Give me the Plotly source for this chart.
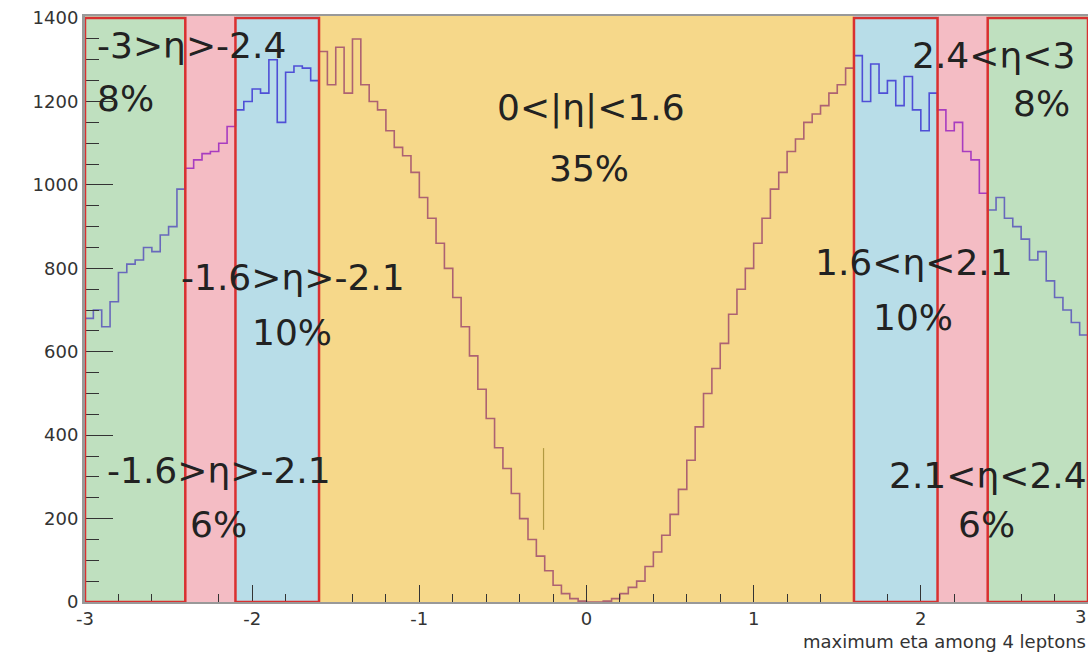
import numpy as np
import plotly.graph_objects as go

# ---- data: histogram counts per region (bin width 0.05) ----
bin_width = 0.05
region_edges = [-3.0, -2.4, -2.1, -1.6, 1.6, 2.1, 2.4, 3.0]

green_left = [680, 700, 660, 720, 790, 810, 820, 850, 840, 880, 900, 990]
pink_left = [1040, 1060, 1075, 1080, 1100, 1140]
blue_left = [1180, 1200, 1230, 1220, 1300, 1150, 1270, 1285, 1280, 1250]
orange_mid = [1320, 1240, 1330, 1220, 1350, 1240, 1200, 1180, 1130, 1090,
              1070, 1030, 970, 920, 860, 800, 730, 660, 590, 510,
              440, 370, 320, 260, 200, 150, 110, 75, 40, 20,
              8, 2, 0, 0, 2, 8, 20, 35, 50, 85,
              120, 160, 210, 270, 340, 420, 500, 560, 620, 690,
              750, 800, 860, 920, 990, 1030, 1080, 1110, 1150, 1170,
              1190, 1220, 1240, 1280]
blue_right = [1310, 1200, 1290, 1220, 1250, 1190, 1260, 1180, 1130, 1220]
pink_right = [1180, 1130, 1150, 1080, 1060, 980]
green_right = [940, 970, 920, 900, 870, 820, 840, 770, 730, 700, 670, 640]

region_counts = [green_left, pink_left, blue_left, orange_mid,
                 blue_right, pink_right, green_right]
region_fill = ["#bfe0bf", "#f4bcc4", "#b8dde8", "#f6d88a",
               "#b8dde8", "#f4bcc4", "#bfe0bf"]
region_line = ["#6868bc", "#a83cc0", "#4f4fd6", "#ad6272",
               "#4f4fd6", "#a83cc0", "#6868bc"]
boxed = [True, False, True, False, True, False, True]

x_tick_values = [-3, -2, -1, 0, 1, 2]
x_tick_text = ["-3", "-2", "-1", "0", "1", "2"]
x_last_tick = (3, "3")
y_tick_values = [0, 200, 400, 600, 800, 1000, 1200, 1400]

labels = [
    ("-3>η>-2.4", -2.94, 1335, "left"),
    ("8%", -2.94, 1208, "left"),
    ("-1.6>η>-2.1", -1.754, 777, "center"),
    ("10%", -1.76, 645, "center"),
    ("-1.6>η>-2.1", -2.198, 316, "center"),
    ("6%", -2.20, 185, "center"),
    ("0<|η|<1.6", 0.024, 1184, "center"),
    ("35%", 0.012, 1040, "center"),
    ("2.4<η<3", 2.437, 1311, "center"),
    ("8%", 2.72, 1196, "center"),
    ("1.6<η<2.1", 1.958, 815, "center"),
    ("10%", 1.952, 681, "center"),
    ("2.1<η<2.4", 2.40, 304, "center"),
    ("6%", 2.39, 185, "center"),
]

stray_mark_x = -0.257
stray_mark_y = [173, 369]

y_max = 1405

fig = go.Figure()

prev_last = None
for i, counts in enumerate(region_counts):
    x0 = region_edges[i]
    n = len(counts)
    edges = list(np.round(x0 + bin_width * np.arange(n + 1), 4))
    ys = list(counts) + [counts[-1]]
    xs = edges
    if prev_last is not None:
        xs = [edges[0]] + xs
        ys = [prev_last] + ys
    prev_last = counts[-1]
    fig.add_trace(go.Scatter(x=xs, y=ys, mode="lines", line_shape="hv",
                             line=dict(color=region_line[i], width=1.6),
                             showlegend=False, hoverinfo="skip"))

shapes = []
for i in range(len(region_counts)):
    shapes.append(dict(type="rect", xref="x", yref="y",
                       x0=region_edges[i], x1=region_edges[i + 1],
                       y0=0, y1=y_max, fillcolor=region_fill[i],
                       line=dict(width=0), layer="below"))
for i in range(len(region_counts)):
    if boxed[i]:
        shapes.append(dict(type="rect", xref="x", yref="y",
                           x0=region_edges[i], x1=region_edges[i + 1],
                           y0=0, y1=y_max - 5, fillcolor="rgba(0,0,0,0)",
                           line=dict(color="#d93030", width=2.5), layer="above"))
shapes.append(dict(type="line", xref="x", yref="y",
                   x0=stray_mark_x, x1=stray_mark_x,
                   y0=stray_mark_y[0], y1=stray_mark_y[1],
                   line=dict(color="#b29a40", width=1.2), layer="above"))

annotations = []
for text, x, y, anchor in labels:
    annotations.append(dict(text=text, x=x, y=y, xref="x", yref="y",
                            xanchor=anchor, yanchor="middle", showarrow=False,
                            font=dict(family="DejaVu Sans", size=36, color="#222222")))
annotations.append(dict(text=x_last_tick[1], x=x_last_tick[0], y=0,
                        xref="x", yref="paper", xanchor="right", yanchor="top",
                        yshift=-2, showarrow=False,
                        font=dict(family="DejaVu Sans", size=18, color="#333333")))
annotations.append(dict(text="maximum eta among 4 leptons", x=1, y=-0.068,
                        xref="paper", yref="paper", xanchor="right",
                        yanchor="middle", showarrow=False,
                        font=dict(family="DejaVu Sans", size=18, color="#333333")))

fig.update_layout(
    width=1091, height=654,
    margin=dict(l=85, r=3, t=16, b=52),
    paper_bgcolor="white", plot_bgcolor="white",
    shapes=shapes, annotations=annotations,
    showlegend=False,
)
fig.update_xaxes(range=[-3, 3], tickvals=x_tick_values, ticktext=x_tick_text,
                 ticks="inside", ticklen=17, tickcolor="#333333", tickwidth=1.3,
                 minor=dict(ticks="inside", dtick=0.2, ticklen=8,
                            tickcolor="#333333", tickwidth=1.2),
                 showgrid=False, zeroline=False, showline=True,
                 linecolor="#999999", linewidth=1.5, mirror=True,
                 tickfont=dict(family="DejaVu Sans", size=18, color="#333333"))
fig.update_yaxes(range=[0, y_max], tickvals=y_tick_values,
                 ticks="inside", ticklen=28, tickcolor="#333333", tickwidth=1.3,
                 minor=dict(ticks="inside", dtick=50, ticklen=14,
                            tickcolor="#333333", tickwidth=1.2),
                 showgrid=False, zeroline=False, showline=True,
                 linecolor="#999999", linewidth=3,
                 tickfont=dict(family="DejaVu Sans", size=18, color="#333333"))

fig.write_html("out.html", config={"displayModeBar": False},
               post_script="document.body.style.margin='0';document.body.style.overflow='hidden';")
